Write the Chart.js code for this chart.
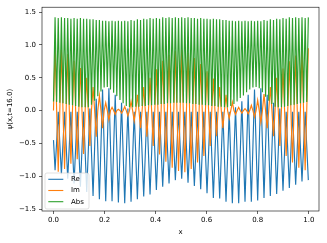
<!DOCTYPE html>
<html>
<head>
<meta charset="utf-8">
<script src="https://cdn.jsdelivr.net/npm/chart.js@4.4.1/dist/chart.umd.min.js"></script>
<style>
  html, body { margin: 0; padding: 0; background: #fff; }
  canvas { display: block; }
</style>
</head>
<body>
<canvas id="graficoOnda" width="327" height="243"></canvas>
<script>
// Valores: 4 muestras por periodo (valle de Re, nodo, pico de Re, nodo)
const seriesLabels = ['Re', 'Im', 'Abs'];
const seriesColors = ['#1f77b4', '#ff7f0e', '#2ca02c'];
const xStep = 0.0062; // paso de la malla en x

const reValues = [
  -0.45,
  -0.91, -0.47, -0.02, -0.50,   -0.97, -0.50, -0.02, -0.53,   -1.04, -0.53, -0.02, -0.57,
  -1.11, -0.57, -0.02, -0.59,   -1.16, -0.59, -0.02, -0.63,   -1.24, -0.61, 0.03, -0.64,
  -1.30, -0.56, 0.18, -0.59,    -1.35, -0.52, 0.32, -0.53,    -1.38, -0.52, 0.34, -0.52,
  -1.38, -0.57, 0.24, -0.58,    -1.40, -0.64, 0.12, -0.65,    -1.41, -0.69, 0.03, -0.68,
  -1.39, -0.71, -0.02, -0.69,   -1.35, -0.69, -0.02, -0.67,   -1.31, -0.67, -0.02, -0.65,
  -1.28, -0.65, -0.02, -0.62,   -1.21, -0.62, -0.02, -0.59,   -1.16, -0.59, -0.02, -0.57,
  -1.11, -0.57, -0.02, -0.54,   -1.06, -0.54, -0.02, -0.53,   -1.04, -0.53, -0.02, -0.56,
  -1.10, -0.56, -0.02, -0.59,   -1.15, -0.59, -0.02, -0.61,   -1.20, -0.61, -0.02, -0.64,
  -1.26, -0.64, -0.02, -0.68,   -1.33, -0.68, -0.02, -0.68,   -1.34, -0.68, -0.02, -0.71,
  -1.39, -0.71, -0.02, -0.72,   -1.41, -0.68, 0.05, -0.68,    -1.41, -0.64, 0.14, -0.63,
  -1.39, -0.58, 0.24, -0.58,    -1.39, -0.54, 0.32, -0.53,    -1.37, -0.52, 0.34, -0.50,
  -1.33, -0.55, 0.24, -0.53,    -1.30, -0.59, 0.12, -0.58,    -1.27, -0.62, 0.03, -0.60,
  -1.22, -0.62, -0.02, -0.60,   -1.18, -0.60, -0.02, -0.58,   -1.13, -0.58, -0.02, -0.55,
  -1.08, -0.55, -0.02, -0.54,
  -1.06
];

const imValues = [
  0.00,
  0.97, 0, -0.93, 0,   0.93, 0, -0.89, 0,   0.86, 0, -0.81, 0,   0.76, 0, -0.74, 0,
  0.65, 0, -0.66, 0,   0.50, 0, -0.54, 0,   0.36, 0, -0.40, 0,   0.23, 0, -0.27, 0,
  0.12, 0, -0.14, 0,   0.05, 0, -0.06, 0,   0.02, 0, -0.04, 0,   0.06, 0, -0.08, 0,
  0.14, 0, -0.16, 0,   0.24, 0, -0.27, 0,   0.36, 0, -0.40, 0,   0.50, 0, -0.54, 0,
  0.63, 0, -0.67, 0,   0.76, 0, -0.78, 0,   0.85, 0, -0.87, 0,   0.91, 0, -0.92, 0,
  0.93, 0, -0.94, 0,   0.88, 0, -0.89, 0,   0.80, 0, -0.79, 0,   0.71, 0, -0.69, 0,
  0.60, 0, -0.54, 0,   0.49, 0, -0.39, 0,   0.36, 0, -0.27, 0,   0.24, 0, -0.12, 0,
  0.13, 0, -0.06, 0,   0.05, 0, -0.04, 0,   0.03, 0, -0.05, 0,   0.08, 0, -0.10, 0,
  0.16, 0, -0.18, 0,   0.25, 0, -0.27, 0,   0.36, 0, -0.39, 0,   0.50, 0, -0.54, 0,
  0.64, 0, -0.69, 0,   0.75, 0, -0.79, 0,   0.84, 0, -0.87, 0,   0.92, 0, -0.91, 0,
  0.95
];

const absValues = [
  0.14,
  1.42, 0.13, 1.41, 0.12,   1.42, 0.11, 1.41, 0.10,   1.41, 0.09, 1.40, 0.08,
  1.41, 0.07, 1.40, 0.06,   1.41, 0.05, 1.40, 0.05,   1.40, 0.05, 1.39, 0.09,
  1.39, 0.15, 1.38, 0.22,   1.38, 0.29, 1.37, 0.35,   1.37, 0.36, 1.36, 0.32,
  1.37, 0.27, 1.36, 0.22,   1.37, 0.16, 1.36, 0.11,   1.37, 0.07, 1.36, 0.05,
  1.38, 0.05, 1.37, 0.06,   1.39, 0.06, 1.38, 0.07,   1.40, 0.07, 1.39, 0.08,
  1.41, 0.08, 1.40, 0.09,   1.41, 0.09, 1.40, 0.10,   1.42, 0.10, 1.41, 0.11,
  1.42, 0.11, 1.41, 0.12,   1.42, 0.12, 1.41, 0.12,   1.42, 0.12, 1.41, 0.11,
  1.42, 0.11, 1.41, 0.10,   1.41, 0.10, 1.40, 0.09,   1.41, 0.09, 1.40, 0.08,
  1.40, 0.08, 1.39, 0.07,   1.40, 0.07, 1.39, 0.06,   1.39, 0.06, 1.38, 0.05,
  1.38, 0.05, 1.37, 0.07,   1.37, 0.10, 1.36, 0.14,   1.37, 0.19, 1.36, 0.23,
  1.37, 0.28, 1.36, 0.32,   1.37, 0.35, 1.36, 0.36,   1.37, 0.34, 1.36, 0.28,
  1.38, 0.21, 1.37, 0.15,   1.39, 0.10, 1.38, 0.06,   1.40, 0.05, 1.39, 0.05,
  1.41, 0.06, 1.40, 0.07,   1.42, 0.08, 1.41, 0.09,   1.42, 0.10, 1.41, 0.11,
  1.42, 0.12, 1.41, 0.13,
  1.42
];

const xTicks = [0, 0.2, 0.4, 0.6, 0.8, 1.0];
const xTickLabels = ['0.0', '0.2', '0.4', '0.6', '0.8', '1.0'];
const yTicks = [-1.5, -1.0, -0.5, 0, 0.5, 1.0, 1.5];
const yTickLabels = ['\u22121.5', '\u22121.0', '\u22120.5', '0.0', '0.5', '1.0', '1.5'];

// Puntos {x, y} para cada serie
function aPuntos(valores) {
  return valores.map((v, i) => ({ x: i * xStep, y: v }));
}

// Marco de los ejes y leyenda dentro del area (abajo a la izquierda)
const marcoYLeyenda = {
  id: 'marcoYLeyenda',
  afterDraw(chart) {
    const ctx = chart.ctx;
    const a = chart.chartArea;
    ctx.save();
    ctx.strokeStyle = '#000';
    ctx.lineWidth = 0.6;
    ctx.strokeRect(a.left, a.top, a.right - a.left, a.bottom - a.top);

    const bx = a.left + 3, by = a.bottom - 38, bw = 44, bh = 36;
    ctx.beginPath();
    ctx.roundRect(bx, by, bw, bh, 2);
    ctx.fillStyle = 'rgba(255,255,255,0.8)';
    ctx.fill();
    ctx.strokeStyle = '#cccccc';
    ctx.lineWidth = 0.6;
    ctx.stroke();

    ctx.font = '7px "DejaVu Sans"';
    ctx.textBaseline = 'middle';
    ctx.textAlign = 'left';
    chart.data.datasets.forEach((ds, i) => {
      const y = by + 6.3 + i * 11.2;
      ctx.beginPath();
      ctx.moveTo(bx + 3.3, y);
      ctx.lineTo(bx + 18.3, y);
      ctx.strokeStyle = ds.borderColor;
      ctx.lineWidth = 1.1;
      ctx.stroke();
      ctx.fillStyle = '#000';
      ctx.fillText(ds.label, bx + 26, y);
    });
    ctx.restore();
  }
};

Chart.defaults.font.family = '"DejaVu Sans", sans-serif';
Chart.defaults.font.size = 7;
Chart.defaults.color = '#000';

const ctx = document.getElementById('graficoOnda').getContext('2d');
const series = [reValues, imValues, absValues];

new Chart(ctx, {
  type: 'line',
  data: {
    datasets: series.map((valores, i) => ({
      label: seriesLabels[i],
      data: aPuntos(valores),
      borderColor: seriesColors[i],
      backgroundColor: seriesColors[i],
      borderWidth: 1.15,
      pointRadius: 0,
      tension: 0,
      fill: false,
      order: 2 - i // Abs encima, Re debajo
    }))
  },
  options: {
    responsive: false,
    animation: false,
    devicePixelRatio: 1,
    layout: { padding: { top: 5, right: 8, left: 0, bottom: 0 } },
    plugins: {
      legend: { display: false },
      tooltip: { enabled: false }
    },
    scales: {
      x: {
        type: 'linear',
        min: -0.045,
        max: 1.04,
        afterBuildTicks: s => { s.ticks = xTicks.map(v => ({ value: v })); },
        afterFit: s => { s.height = 32; },
        ticks: {
          callback: (v, i) => xTickLabels[i],
          padding: 2,
          maxRotation: 0,
          autoSkip: false,
          color: '#000'
        },
        grid: { drawOnChartArea: false, tickLength: 3, color: '#000', lineWidth: 0.6 },
        border: { display: false },
        title: { display: true, text: 'x', color: '#000', padding: { top: 0, bottom: 7 } }
      },
      y: {
        type: 'linear',
        min: -1.53,
        max: 1.575,
        afterBuildTicks: s => { s.ticks = yTicks.map(v => ({ value: v })); },
        afterFit: s => { s.width = 42; },
        ticks: {
          callback: (v, i) => yTickLabels[i],
          padding: 3,
          autoSkip: false,
          color: '#000'
        },
        grid: { drawOnChartArea: false, tickLength: 3, color: '#000', lineWidth: 0.6 },
        border: { display: false },
        title: { display: true, text: '\u03c8(x,t=16.0)', color: '#000', padding: { top: 6, bottom: 0 } }
      }
    }
  },
  plugins: [marcoYLeyenda]
});
</script>
</body>
</html>
